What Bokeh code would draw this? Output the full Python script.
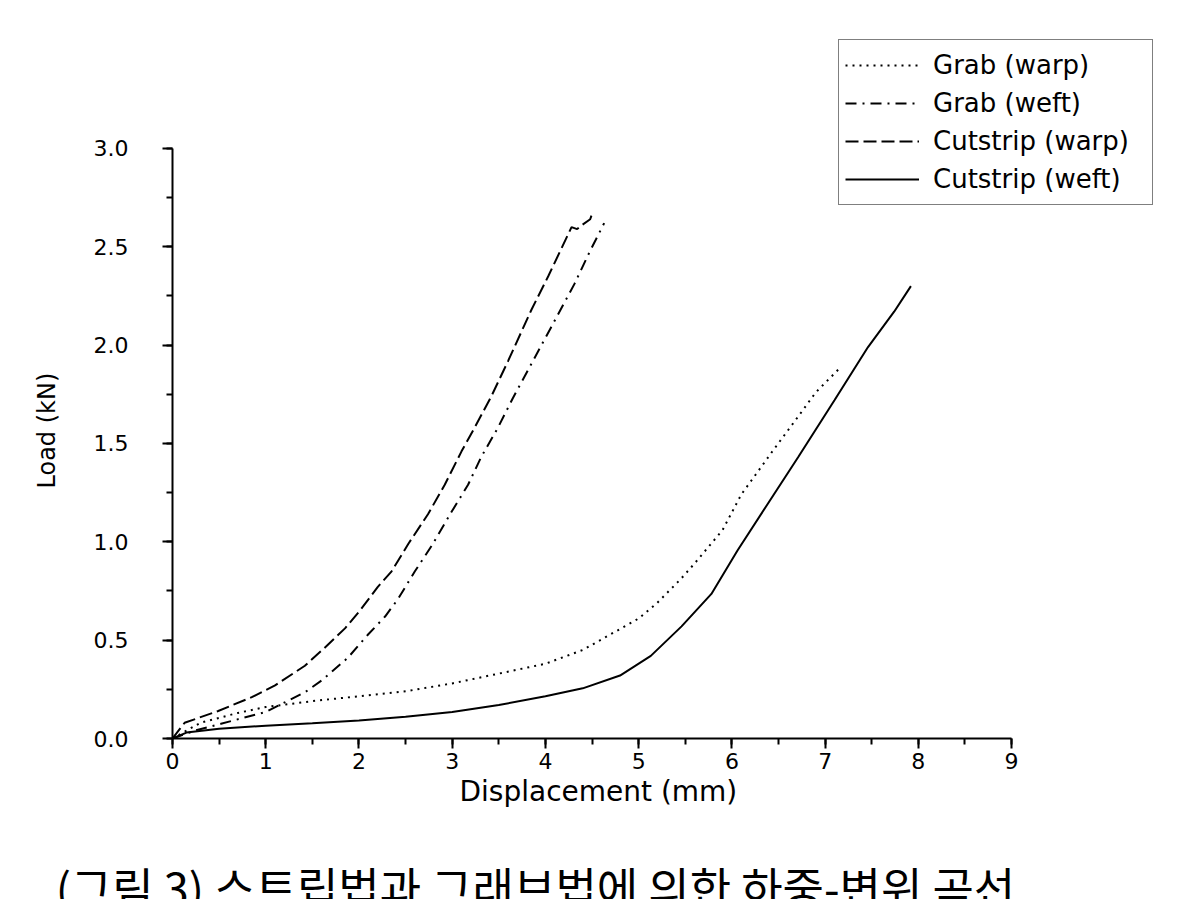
from bokeh.plotting import figure
from bokeh.layouts import column
from bokeh.models import (SingleIntervalTicker, PrintfTickFormatter, Legend, LegendItem,
                          Range1d, Title)
from bokeh.core.properties import value
from bokeh.embed import file_html
from bokeh.resources import INLINE

# ---- data ----
grab_warp_x = [0, 0.3, 0.7, 1.0, 1.5, 2.0, 2.5, 3.0, 3.5, 4.0, 4.4, 4.7, 5.0, 5.2, 5.45, 5.6, 5.9, 6.1, 6.45, 6.7, 6.9, 7.15]
grab_warp_y = [0, 0.08, 0.13, 0.16, 0.19, 0.215, 0.24, 0.28, 0.33, 0.38, 0.45, 0.53, 0.61, 0.69, 0.81, 0.89, 1.06, 1.24, 1.47, 1.63, 1.76, 1.88]

grab_weft_x = [0, 0.24, 0.52, 1.0, 1.42, 1.6, 1.88, 2.1, 2.28, 2.42, 2.6, 2.78, 2.99, 3.17, 3.31, 3.49, 3.65, 3.81, 4.06, 4.31, 4.47, 4.63]
grab_weft_y = [0, 0.04, 0.075, 0.135, 0.235, 0.295, 0.41, 0.53, 0.62, 0.71, 0.85, 0.98, 1.15, 1.29, 1.43, 1.58, 1.73, 1.87, 2.09, 2.31, 2.47, 2.62]

cut_warp_x = [0, 0.13, 0.49, 0.85, 1.1, 1.42, 1.63, 1.85, 2.01, 2.2, 2.35, 2.53, 2.74, 2.92, 3.1, 3.24, 3.42, 3.6, 3.85, 4.03, 4.17, 4.28, 4.34, 4.39, 4.48, 4.51]
cut_warp_y = [0, 0.08, 0.14, 0.21, 0.27, 0.37, 0.46, 0.56, 0.65, 0.77, 0.85, 0.99, 1.14, 1.29, 1.46, 1.58, 1.74, 1.92, 2.18, 2.35, 2.49, 2.60, 2.59, 2.61, 2.64, 2.68]

cut_weft_x = [0, 0.15, 0.5, 1.0, 1.5, 2.0, 2.5, 3.0, 3.5, 4.0, 4.4, 4.8, 5.13, 5.46, 5.78, 6.06, 6.38, 6.71, 7.1, 7.46, 7.74, 7.92]
cut_weft_y = [0, 0.03, 0.05, 0.065, 0.077, 0.092, 0.11, 0.135, 0.17, 0.215, 0.255, 0.32, 0.42, 0.57, 0.735, 0.956, 1.19, 1.43, 1.72, 1.99, 2.17, 2.30]

series_names = ["Grab (warp)", "Grab (weft)", "Cutstrip (warp)", "Cutstrip (weft)"]
x_label = "Displacement (mm)"
y_label = "Load (kN)"
caption = "(그림 3) 스트립법과 그래브법에 의한 하중-변위 곡선"

FONT = "DejaVu Sans"

# axis extents actually drawn, and the (larger) frame that also holds the legend
X_AX = (0, 9)
Y_AX = (0, 3)
X_VIEW = (0, 10.597)
Y_VIEW = (0, 3.625)

p = figure(width=1203, height=840, output_backend="svg", toolbar_location=None,
           x_range=Range1d(*X_VIEW), y_range=Range1d(*Y_VIEW),
           min_border_left=171, min_border_right=43, min_border_top=25, min_border_bottom=102)
p.outline_line_color = None
p.grid.visible = False
p.background_fill_color = "white"
p.border_fill_color = "white"

r1 = p.line(grab_warp_x, grab_warp_y, line_color="black", line_width=2, line_dash="2 5")
r2 = p.line(grab_weft_x, grab_weft_y, line_color="black", line_width=2, line_dash="11 6 2 6")
r3 = p.line(cut_warp_x, cut_warp_y, line_color="black", line_width=2, line_dash="13 5")
r4 = p.line(cut_weft_x, cut_weft_y, line_color="black", line_width=2)

for ax in (p.xaxis[0], p.yaxis[0]):
    ax.axis_line_width = 2
    ax.axis_line_color = "black"
    ax.major_tick_line_width = 2
    ax.minor_tick_line_width = 2
    ax.major_tick_out = 10
    ax.major_tick_in = 0
    ax.minor_tick_out = 6
    ax.minor_tick_in = 0
    ax.major_label_text_font = FONT
    ax.major_label_text_font_size = "22px"
    ax.major_label_text_color = "black"

p.xaxis[0].bounds = X_AX
p.yaxis[0].bounds = Y_AX
p.xaxis[0].ticker = SingleIntervalTicker(interval=1, num_minor_ticks=2)
p.yaxis[0].ticker = SingleIntervalTicker(interval=0.5, num_minor_ticks=2)
p.yaxis[0].formatter = PrintfTickFormatter(format="%.1f")
p.xaxis[0].major_label_standoff = 4
p.yaxis[0].major_label_standoff = 34

# axis titles as side titles so they can be placed relative to the drawn axes
p.add_layout(Title(text=x_label, align="left", offset=287, standoff=2,
                   text_font=FONT, text_font_size="28px", text_font_style="normal",
                   text_color="black"), "below")
p.add_layout(Title(text=y_label, align="left", offset=250, standoff=60,
                   text_font=FONT, text_font_size="24px", text_font_style="normal",
                   text_color="black"), "left")

legend = Legend(items=[LegendItem(label=n, renderers=[r]) for n, r in zip(series_names, [r1, r2, r3, r4])],
                location=(666, 533), orientation="vertical",
                glyph_width=74, glyph_height=38, label_height=38, label_width=213,
                label_standoff=14, spacing=0, padding=6, margin=0,
                label_text_font=FONT, label_text_font_size="26px", label_text_color="black",
                border_line_color="black", border_line_width=1.5,
                background_fill_color="white", background_fill_alpha=1.0)
p.add_layout(legend, "center")

# caption strip (the reference cuts it off at the bottom edge)
c = figure(width=1203, height=59, output_backend="svg", toolbar_location=None,
           x_range=Range1d(0, 1203), y_range=Range1d(0, 59),
           x_axis_type=None, y_axis_type=None, min_border=0)
try:
    c.frame_align = False
except Exception:
    pass
c.grid.visible = False
c.outline_line_color = None
c.text(x=[535], y=[46], text=[caption], text_font=value("Noto Sans CJK KR"),
       text_font_size="45px", text_color="black", text_align="center", text_baseline="top")

layout = column(p, c, spacing=0)
open("out.html", "w").write(file_html(layout, INLINE))
